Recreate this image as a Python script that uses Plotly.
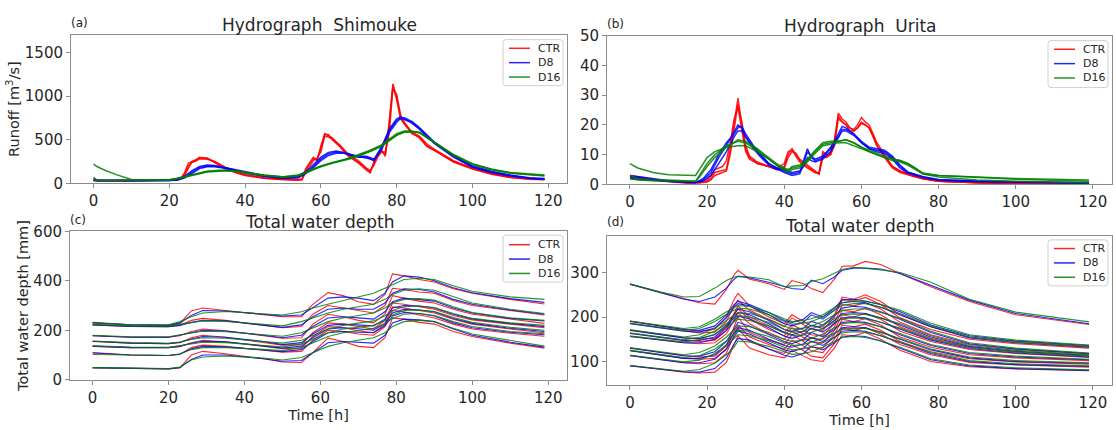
import plotly.graph_objects as go

labels = ["CTR", "D8", "D16"]
colors = ["#ff0000", "#0000ff", "#008000"]

# ---------------- Panel (a): Hydrograph Shimouke (runoff m3/s) ----------------
a_t_ctr = [0,1,3,10,20,22,23,24,25,26,27,28,30,32,35,38,40,45,50,54,55,56,57,58,59,60,61,62,63,65,
           67,70,72,73,74,75,76,77,78,79,80,81,82,84,86,88,90,95,100,105,110,115,119]
a_ctr = [
    [60,30,30,30,32,35,60,120,230,250,270,300,285,245,170,120,95,60,45,40,45,150,220,280,270,400,570,540,520,430,
     330,240,160,130,230,320,370,330,650,1140,980,760,690,570,530,430,380,250,170,110,70,50,45],
    [40,28,30,30,33,38,55,100,200,240,255,280,275,250,180,125,100,65,48,42,50,120,200,260,290,360,540,530,510,440,
     345,255,175,145,210,300,360,360,560,1080,1020,790,700,590,540,450,390,260,175,115,75,55,48],
    [35,30,30,31,34,36,50,90,170,250,265,290,290,240,160,115,90,58,42,38,42,170,240,300,260,430,560,560,500,420,
     320,230,150,120,250,340,380,310,700,1120,960,740,680,580,520,420,375,245,165,105,68,48,42],
]
a_t_d8 = [0,5,10,20,22,24,26,28,30,32,35,40,45,50,54,55,57,60,62,64,66,68,70,72,74,76,78,80,81,82,
          84,86,88,90,95,100,105,110,115,119]
a_d8 = [
    [40,32,30,32,40,70,130,185,200,195,175,125,85,60,70,100,150,280,340,360,350,320,300,300,260,400,620,740,760,740,
     690,620,530,460,310,190,130,90,60,50],
    [35,30,30,33,45,80,145,195,210,205,180,130,90,65,80,110,170,300,355,370,355,330,305,290,270,420,600,720,750,750,
     710,640,550,470,320,200,140,95,65,55],
    [30,30,30,31,38,60,115,170,190,190,170,120,80,58,62,90,140,260,320,345,345,325,310,310,280,380,580,700,740,730,
     700,630,540,455,300,185,125,85,58,48],
]
a_t_d16 = [0,1,3,6,10,15,20,22,25,28,30,33,35,38,40,45,50,54,57,60,63,66,68,70,73,76,78,80,82,84,
           86,88,90,95,100,105,110,115,119]
a_d16 = [
    [220,190,150,100,45,40,42,60,90,120,140,150,150,140,125,95,75,95,150,200,240,270,300,330,380,440,500,570,600,600,
     580,520,460,320,220,160,120,100,90],
    [70,35,35,35,35,38,42,55,85,115,135,145,148,140,122,92,72,90,145,195,235,265,290,320,370,430,490,555,590,595,
     585,530,470,330,225,165,125,105,95],
    [40,30,32,32,33,36,40,50,80,110,130,140,145,138,120,90,70,85,140,190,230,260,285,315,365,425,485,550,585,590,
     580,525,465,325,215,155,115,95,85],
]

# ---------------- Panel (b): Hydrograph Urita ----------------
b_t_ctr = [0,5,10,15,18,20,21,22,24,25,26,27,28,29,30,31,33,36,38,40,41,42,43,44,46,48,49,50,51,52,
           53,54,55,56,57,58,59,60,61,62,63,64,66,68,70,73,76,80,90,100,119]
b_ctr = [
    [3,2,1,0.5,0.5,1,2,4,4.5,5,12,20,29,20,12,9,7,6,5,6,10,12,10,8,6,4,3.5,11,10,10,
     14,24,22,21,19,18.5,20,22.5,21,20,17,14,10,6,4.5,3,2,1,0.5,0.3,0.3],
    [2.5,1.8,1,0.6,0.8,1.5,3,5,6,8,14,22,26,18,11,8.5,7,6,5.5,7,11,11.5,9.5,7.5,5.5,4,3.8,10,9.5,11,
     15,23,21,20,18,18,19,21,20,19,16,13,9.5,6,4.5,3,2,1,0.5,0.3,0.3],
    [2,1.5,0.8,0.4,0.5,0.8,1.5,3,4,4.5,10,18,27,21,13,9.5,7.5,6,5,5.5,9,11,10.5,8.5,6.5,4.5,3.5,9,9,10,
     13,22,21,20,19,18,19,20.5,20,19,16.5,13,9,5.5,4,2.8,1.8,1,0.5,0.3,0.3],
]
b_t_d8 = [0,10,17,19,21,23,25,27,28,29,30,32,34,36,38,40,42,44,45,46,47,48,50,52,54,55,56,58,60,62,
          64,66,68,70,72,76,80,90,119]
b_d8 = [
    [2.5,1,0.5,1.5,4,9,13,18,20,19,16,12,9,6.5,5,4.5,3.5,4,8,12,9,8,9,12,17,19.5,19,17,14,12,
     11.5,11,9,6,4,2.5,1.5,1,0.5],
    [2,1,0.6,1.2,3,7,11,16,18,18,16,12.5,9.5,7,5.5,5,4,4.5,6,9,8,7.5,8.5,11,15.5,18,18,16.5,14,12,
     11,10.5,8.5,5.5,3.8,2.3,1.4,0.9,0.4],
    [3,1.2,0.6,2,5,10,14,17,19,19.5,17,13,10,7,5.5,4,3,3.5,7,11,9.5,8.5,9.5,12.5,16,18.5,18.5,17,14.5,12.5,
     12,11.5,9.5,6.5,4.2,2.6,1.6,1.1,0.5],
]
b_t_d16 = [0,2,6,10,17,18,20,22,25,28,30,33,36,38,40,41,42,44,46,48,50,52,54,56,58,60,62,64,66,68,
           70,72,74,76,80,90,100,119]
b_d16 = [
    [7,5.5,4,3.2,3,5,9,11,12.5,13,13,11,8.5,6.5,5,4,5,5.5,7.5,10.5,13,13.5,14,14,13,12,11,10,9,8,
     7.5,6.5,5,3.5,3,2.5,2,1.5],
    [3,2,1.5,1.5,1,3,7,10,13,14.5,14,11.5,8.5,6.5,5,4.5,6,6.5,8.5,11.5,14,14.5,14.5,15,14,12.5,11,10,9,8.5,
     8,7,5.5,3.8,3,2.3,1.7,1],
    [2,1.5,1.2,1.2,1,2.5,6,9,12.5,15,14.5,12,9,7,5.5,5,5.5,6,8,11,13.5,14,14.5,15,14,12.5,11.5,10.5,9.5,8.5,
     8,7,5.5,3.5,2.5,1.5,1,0.5],
]

# ---------------- Panel (c): Total water depth (mm), left basin ----------------
c_t = [0,10,20,23,26,29,35,45,50,55,58,62,66,70,74,77,79,82,86,90,95,100,110,119]
c_ctr = [
    [232,222,220,228,278,290,280,262,255,255,305,352,340,315,305,345,428,420,405,395,368,350,325,306],
    [222,216,215,220,240,248,240,220,210,215,265,300,290,280,270,300,370,365,355,350,320,300,280,262],
    [178,172,172,178,195,205,198,178,168,170,225,265,255,240,230,265,340,330,318,310,285,265,245,228],
    [155,148,146,150,170,180,172,152,140,142,190,230,225,215,205,240,310,305,295,285,260,242,225,210],
    [135,130,130,134,150,160,154,136,126,128,175,215,210,198,190,225,295,290,280,270,245,225,205,190],
    [110,100,98,102,130,140,135,120,112,115,160,200,195,185,180,215,280,275,262,250,225,205,188,176],
    [48,45,44,48,100,115,105,85,72,70,110,168,155,135,130,170,250,245,232,225,195,175,148,128],
]
c_d8 = [
    [230,222,220,230,260,280,278,264,258,262,290,330,335,330,320,350,395,420,415,400,372,352,328,313],
    [222,216,215,220,232,240,238,222,212,222,255,285,290,285,285,310,350,368,365,355,325,305,282,265],
    [178,172,172,180,190,200,197,180,170,180,215,250,255,250,245,275,315,330,325,318,290,270,248,238],
    [156,148,146,152,165,175,172,155,142,150,185,220,225,222,218,245,290,300,298,290,265,246,228,215],
    [136,130,130,136,148,156,154,138,128,136,170,205,210,206,200,228,270,285,282,275,248,228,208,195],
    [108,100,98,104,125,135,133,122,114,122,155,190,195,192,190,218,258,272,268,258,230,210,192,182],
    [49,45,44,50,82,100,100,85,75,78,110,150,155,150,148,180,230,245,242,235,205,180,152,132],
]
c_d16 = [
    [230,222,222,235,255,270,276,265,262,275,290,305,320,335,350,370,385,405,410,405,380,358,335,325],
    [224,218,217,223,232,238,236,224,218,235,250,270,285,295,305,325,345,362,368,362,335,310,285,268],
    [180,174,174,182,190,196,194,182,176,190,210,235,250,260,270,290,310,325,328,322,295,272,250,240],
    [157,150,147,153,163,170,168,156,148,160,180,205,220,230,238,258,280,295,298,292,268,248,230,220],
    [137,132,131,137,146,152,150,140,133,145,165,190,205,212,220,240,262,280,282,276,252,232,212,200],
    [102,99,98,104,122,130,130,123,118,130,150,175,190,200,208,226,248,265,268,260,235,215,195,186],
    [49,46,45,52,80,92,96,88,80,90,108,135,150,160,170,190,215,235,240,235,208,185,158,136],
]

# ---------------- Panel (d): Total water depth (mm), right basin ----------------
d_t = [0,8,14,18,22,25,27,28,31,36,40,42,45,47,50,53,55,58,61,65,70,78,88,100,119]
d_ctr = [
    [274,255,240,232,229,262,295,305,285,275,262,282,275,264,255,285,314,315,325,318,298,268,235,205,183],
    [191,180,172,168,172,200,240,253,225,200,185,205,190,180,178,205,245,240,250,235,205,178,155,145,134],
    [186,176,168,164,166,190,225,238,215,195,178,198,182,172,170,200,240,236,244,228,198,172,150,140,130],
    [171,160,153,150,152,175,210,225,200,180,165,182,170,160,158,185,228,225,232,218,188,160,138,127,117],
    [164,154,147,145,148,170,205,218,195,172,158,176,162,152,150,178,215,212,220,205,178,152,132,122,112],
    [157,148,142,140,142,162,196,210,185,162,150,168,154,144,142,170,205,200,208,195,168,145,127,118,109],
    [131,120,113,110,112,135,180,200,165,148,138,160,145,132,130,160,195,190,196,182,155,132,115,108,102],
    [125,114,107,105,107,128,168,182,155,138,128,148,135,124,120,150,182,178,184,170,145,122,106,99,94],
    [114,104,97,95,97,118,160,175,145,128,118,138,124,112,108,140,175,170,176,162,138,115,98,92,87],
    [91,82,76,74,76,98,140,158,130,115,108,125,112,104,100,130,160,158,165,150,125,100,88,83,79],
]
d_d8 = [
    [274,255,240,235,245,265,285,292,288,278,268,264,262,283,275,290,305,310,310,308,298,272,238,208,185],
    [190,180,172,170,180,205,228,235,228,210,192,188,195,210,200,220,238,240,236,228,212,182,158,146,136],
    [185,175,168,166,175,198,222,230,225,205,185,180,188,205,195,215,232,235,232,222,205,178,153,142,132],
    [170,160,153,152,160,182,208,218,212,192,172,168,175,190,182,202,220,224,222,212,195,165,140,128,118],
    [163,154,147,147,155,178,200,210,205,185,165,160,168,182,174,192,208,210,208,198,182,155,134,123,114],
    [156,148,142,142,150,170,192,202,196,176,157,152,160,175,166,184,198,200,198,188,172,148,129,119,110],
    [130,120,113,112,122,145,175,188,180,160,145,140,150,165,155,172,188,190,188,178,160,136,118,110,104],
    [124,114,107,107,115,138,165,176,170,150,136,132,140,154,145,162,176,178,176,166,150,126,108,100,96],
    [113,104,97,97,105,128,155,168,162,142,126,122,130,146,136,154,168,170,168,158,142,118,100,93,89],
    [90,82,77,76,84,108,140,152,148,128,114,110,118,134,126,142,155,158,156,146,130,104,90,84,80],
]
d_d16 = [
    [274,256,245,246,265,282,290,291,290,284,268,270,271,280,286,298,307,312,310,306,300,278,240,211,189],
    [191,181,174,178,195,212,222,226,224,210,196,190,192,196,205,222,232,236,235,228,215,186,160,148,137],
    [186,176,170,174,190,206,216,220,218,205,190,184,186,190,200,216,226,230,230,222,208,180,155,143,133],
    [171,161,155,160,175,192,205,210,208,195,180,173,175,180,190,205,215,218,218,210,197,168,142,130,119],
    [164,155,149,154,168,185,198,203,200,188,172,166,168,173,182,196,205,207,206,198,185,158,136,125,115],
    [157,149,144,149,162,178,190,195,192,180,164,158,160,165,174,188,196,198,196,188,175,150,131,121,112],
    [131,121,115,120,135,155,172,180,178,165,150,145,148,152,162,175,185,188,186,178,163,138,120,112,105],
    [125,115,109,113,128,146,162,170,168,156,142,136,138,143,152,164,172,175,174,166,152,128,110,102,97],
    [114,105,99,103,118,136,152,160,158,146,132,126,128,133,142,155,164,167,166,158,144,120,102,95,90],
    [91,83,78,82,96,115,132,146,144,134,122,116,118,122,132,145,154,156,154,146,132,106,92,86,81],
]

x_ticks = [0, 20, 40, 60, 80, 100, 120]

fig = go.Figure()

panels = [
    ("", [(a_t_ctr, a_ctr), (a_t_d8, a_d8), (a_t_d16, a_d16)], 1.5),
    ("2", [(b_t_ctr, b_ctr), (b_t_d8, b_d8), (b_t_d16, b_d16)], 1.5),
    ("3", [(c_t, c_ctr), (c_t, c_d8), (c_t, c_d16)], 1.1),
    ("4", [(d_t, d_ctr), (d_t, d_d8), (d_t, d_d16)], 1.1),
]

for suf, exps, lw in panels:
    for k, (t, members) in enumerate(exps):
        for j, vals in enumerate(members):
            fig.add_trace(go.Scatter(
                x=t, y=vals, mode="lines",
                line=dict(color=colors[k], width=lw),
                opacity=0.85, name=labels[k], showlegend=False,
                xaxis="x" + suf, yaxis="y" + suf, hoverinfo="skip",
            ))

W, H = 1116, 430
def dx(a, b):
    return [a / W, b / W]
def dy(top, bottom):
    return [1 - bottom / H, 1 - top / H]
def px(x):
    return x / W
def py(y):
    return 1 - y / H

axis_style = dict(showline=True, mirror=True, linecolor="#8c8c8c", linewidth=1,
                  ticks="outside", ticklen=4, tickwidth=1, tickcolor="#8c8c8c",
                  showgrid=False, zeroline=False,
                  tickfont=dict(size=15, color="#262626"))
xr = [-5.95, 124.95]

layout = dict(
    width=W, height=H, margin=dict(l=0, r=0, t=0, b=0),
    paper_bgcolor="white", plot_bgcolor="white", showlegend=False,
    font=dict(family="DejaVu Sans", size=14, color="#262626"),
    xaxis=dict(domain=dx(71, 567), range=xr, tickvals=x_ticks, anchor="y", **axis_style),
    yaxis=dict(domain=dy(27, 182), range=[0, 1700], tickvals=[0, 500, 1000, 1500], anchor="x",
               title=dict(text="Runoff [m<sup>3</sup>/s]", font=dict(size=14.5), standoff=1), **axis_style),
    xaxis2=dict(domain=dx(607, 1112), range=xr, tickvals=x_ticks, anchor="y2", **axis_style),
    yaxis2=dict(domain=dy(28, 183), range=[0, 50], tickvals=[0, 10, 20, 30, 40, 50], anchor="x2", **axis_style),
    xaxis3=dict(domain=dx(70, 567), range=xr, tickvals=x_ticks, anchor="y3",
                title=dict(text="Time [h]", font=dict(size=14.5), standoff=2), **axis_style),
    yaxis3=dict(domain=dy(232, 387), range=[0, 600], tickvals=[0, 200, 400, 600], anchor="x3",
                title=dict(text="Total water depth [mm]", font=dict(size=14.5), standoff=1), **axis_style),
    xaxis4=dict(domain=dx(607, 1112), range=xr, tickvals=x_ticks, anchor="y4",
                title=dict(text="Time [h]", font=dict(size=14.5), standoff=2), **axis_style),
    yaxis4=dict(domain=dy(237, 392), range=[48, 382], tickvals=[100, 200, 300], anchor="x4", **axis_style),
)
fig.update_layout(**layout)

# Legends drawn per panel (box, short line samples, real text labels)
legend_boxes = [
    # left, top, right, bottom, first entry y
    (503, 32, 563, 80, 41),
    (1048, 33, 1108, 82, 42),
    (503, 236, 563, 285, 246),
    (1048, 241, 1108, 289, 250),
]
shapes = []
for (l, t, r, b, y0) in legend_boxes:
    rad = 3
    path = (f"M {px(l+rad)},{py(t)} L {px(r-rad)},{py(t)} Q {px(r)},{py(t)} {px(r)},{py(t+rad)} "
            f"L {px(r)},{py(b-rad)} Q {px(r)},{py(b)} {px(r-rad)},{py(b)} "
            f"L {px(l+rad)},{py(b)} Q {px(l)},{py(b)} {px(l)},{py(b-rad)} "
            f"L {px(l)},{py(t+rad)} Q {px(l)},{py(t)} {px(l+rad)},{py(t)} Z")
    shapes.append(dict(type="path", path=path, xref="paper", yref="paper",
                       line=dict(color="#d0d0d0", width=1), fillcolor="rgba(255,255,255,0.85)",
                       layer="above"))
    for k in range(3):
        yy = y0 + 15 * k
        shapes.append(dict(type="line", xref="paper", yref="paper",
                           x0=px(l + 6), x1=px(l + 27), y0=py(yy), y1=py(yy),
                           line=dict(color=colors[k], width=1.5), opacity=0.85, layer="above"))
        fig.add_annotation(text=labels[k], x=px(l + 33), y=py(yy), xref="paper", yref="paper",
                           showarrow=False, xanchor="left", yanchor="middle",
                           font=dict(size=11, color="#262626"))
fig.update_layout(shapes=shapes)

titles = [
    ("Hydrograph\u00a0 Shimouke", 319, 17),
    ("Hydrograph\u00a0 Urita", 860, 18),
    ("Total water depth", 319, 222),
    ("Total water depth", 860, 226),
]
for text, xc, yc in titles:
    fig.add_annotation(text=text, x=px(xc), y=py(yc), xref="paper", yref="paper",
                       showarrow=False, xanchor="center", yanchor="middle",
                       font=dict(size=17, color="#262626"))

panel_labels = [("(a)", 69, 15), ("(b)", 605, 16), ("(c)", 68, 220), ("(d)", 605, 222)]
for text, xl, yc in panel_labels:
    fig.add_annotation(text=text, x=px(xl), y=py(yc), xref="paper", yref="paper",
                       showarrow=False, xanchor="left", yanchor="middle",
                       font=dict(size=12, color="#262626"))

fig.write_html("out.html")
